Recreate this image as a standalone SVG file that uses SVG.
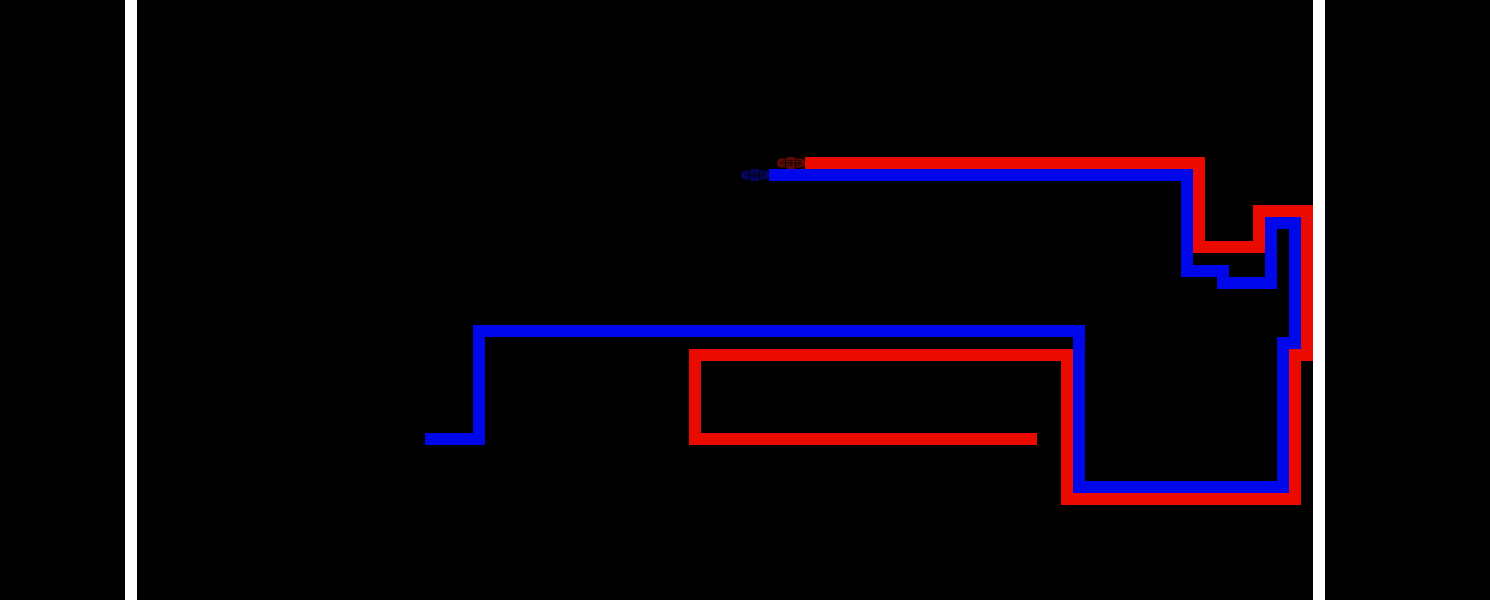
<svg xmlns="http://www.w3.org/2000/svg" width="1490" height="600" viewBox="0 0 1490 600">
<defs>
<g id="end-cap">
<rect x="0" y="1.500" width="28" height="9" rx="4.500"/>
<rect x="9" y="0" width="10" height="12" rx="2"/>
<path d="M3 6H25M8.500 1V11M18.500 1V11M14 3V9M22 3V9" fill="none" stroke="#000" stroke-width="1" opacity=".75"/>
<path d="M5 3.500H24M5 8.500H24" fill="none" stroke="#000" stroke-width=".8" opacity=".5"/>
</g>
</defs>
<style>
.wire{fill:none;stroke-width:12;stroke-linejoin:miter;stroke-linecap:butt}
.red{stroke:#eb0a00}
.blue{stroke:#0008eb}
.rail{fill:#fff}
#cap-red{fill:#5f0a04}
#cap-blue{fill:#040462}
</style>
<rect width="1490" height="600" fill="#000"/>
<rect class="rail" x="125" y="0" width="12" height="600"/>
<rect class="rail" x="1313" y="0" width="12" height="600"/>
<g id="connectors">
<path id="blue-line" class="wire blue" d="M769 175H1187V271H1223V283H1271V223H1295V343H1283V487H1079V331H479V439H425"/>
<path id="red-line" class="wire red" d="M805 163H1199V247H1259V211H1307V355H1295V499H1067V355H695V439H1037"/>
</g>
<g id="cap-red"><use href="#end-cap" x="777" y="157"/></g>
<g id="cap-blue"><use href="#end-cap" x="741" y="169"/></g>
</svg>
